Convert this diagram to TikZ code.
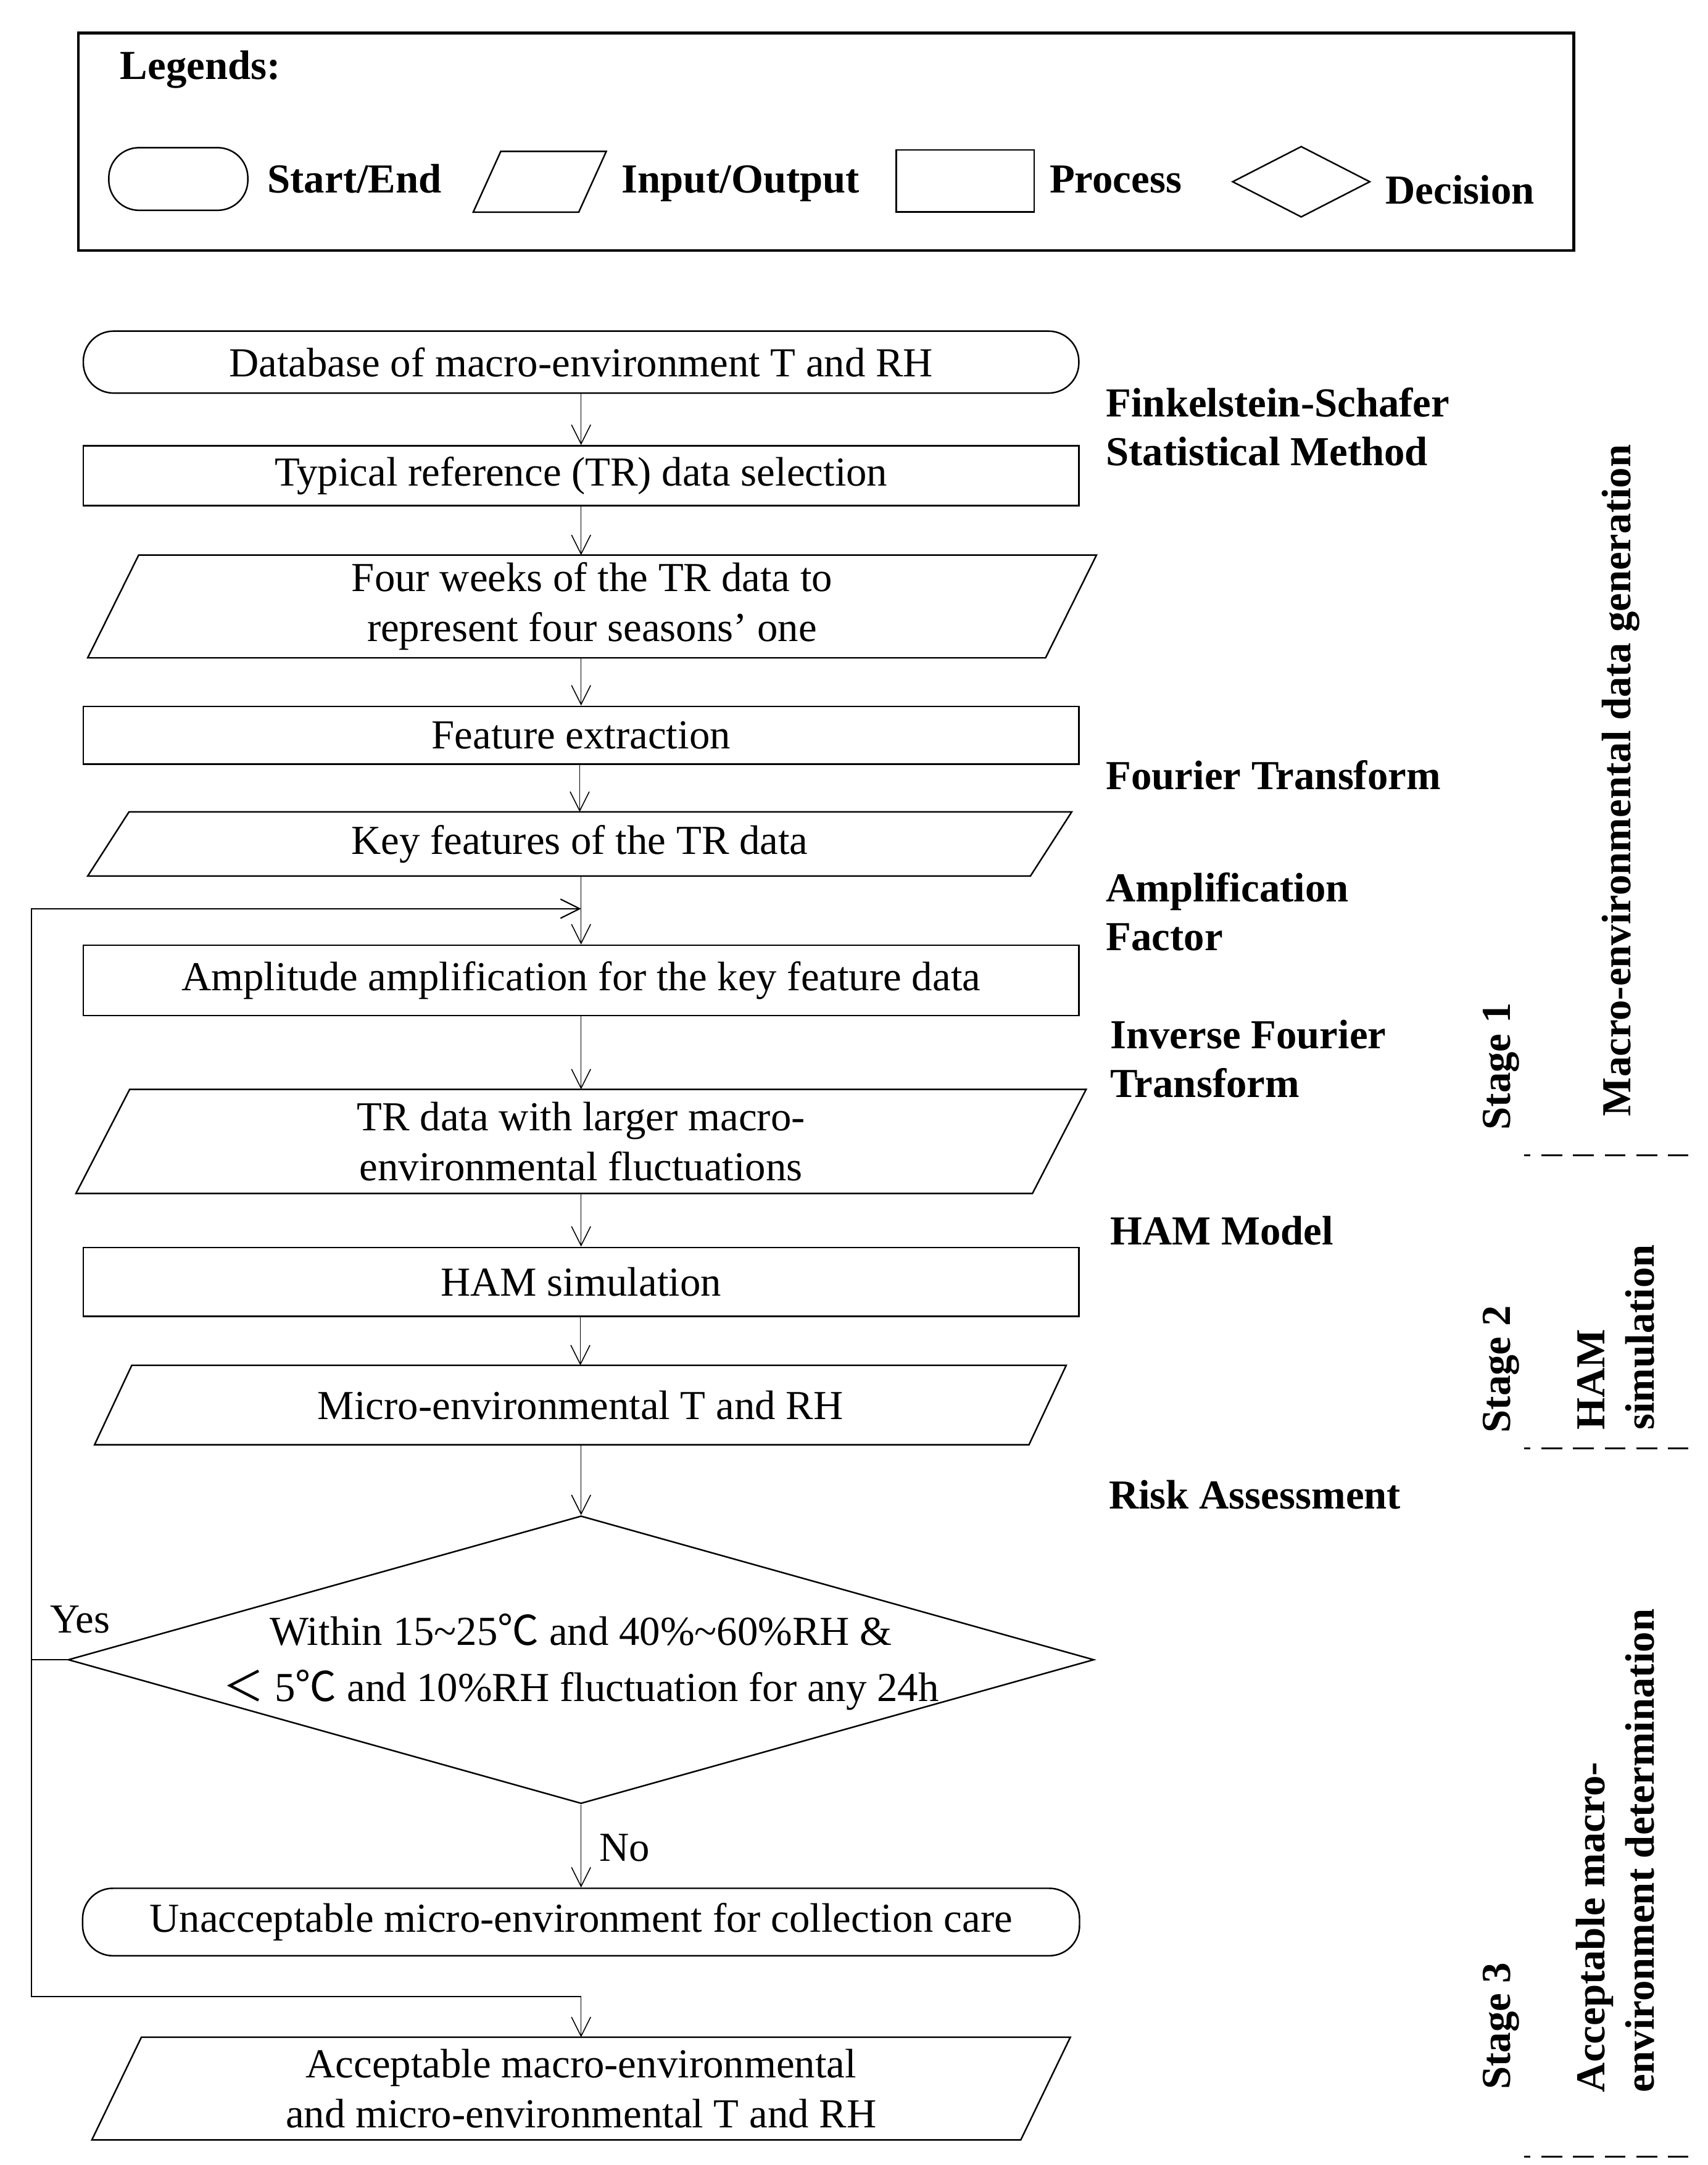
\documentclass[tikz,border=0pt]{standalone}
\usepackage{fontspec}
\setmainfont{Liberation Serif}
\newfontfamily\cjk{Noto Sans CJK SC}
\usetikzlibrary{shapes.geometric,arrows.meta}
\newcommand{\pxu}{0.022315cm}

\begin{document}
\begin{tikzpicture}[x=0.022315cm,y=-0.022315cm,
    every node/.style={font=\fontsize{19pt}{23pt}\selectfont, inner sep=0pt},
    boldtxt/.style={font=\fontsize{19pt}{22.5pt}\selectfont\bfseries},
    flow/.style={draw, line width=0.45pt, -{Straight Barb[length=3.1mm,width=3.1mm]}},
    loopline/.style={draw, line width=0.6pt},
    term/.style={draw, line width=0.7pt, rectangle, rounded corners=0.49cm,
      minimum width=723*\pxu, minimum height=45*\pxu, align=center},
    procbox/.style={draw, line width=0.7pt, rectangle,
      minimum width=723*\pxu, minimum height=43*\pxu, align=center},
    iobox/.style={rectangle, align=center},
    ioline/.style={line width=0.7pt, line join=miter},
    decbox/.style={draw, line width=0.7pt, diamond, aspect=3.56,
      inner xsep=0pt, inner ysep=-10*\pxu, text height=38.6pt, text depth=0pt,
      minimum width=745*\pxu, minimum height=209*\pxu, align=center,
      font=\fontsize{19pt}{26pt}\selectfont},
    stagesep/.style={line width=0.9pt, dash pattern=on 15*\pxu off 8*\pxu,
      dash phase=10.5*\pxu}
  ]
  \path[fill=white] (0,0) rectangle (1240,1572.5);

  % Legend
  \draw[line width=1.2pt] (57,24) rectangle (1143,182);
  \node[boldtxt, anchor=base west] (lgtitle) at (87,57.5) {Legends:};
  \node[term, minimum width=101*\pxu, minimum height=45.5*\pxu] (lgterm) at (129.5,130) {};
  \node[boldtxt, anchor=base west] (lgtermtxt) at (194,140) {Start/End};
  \node[iobox, minimum width=96*\pxu, minimum height=43.5*\pxu] (lgio) at (392,132) {};
  \node[boldtxt, anchor=base west] (lgiotxt) at (451,140) {Input/Output};
  \node[procbox, minimum width=100*\pxu, minimum height=45*\pxu] (lgproc) at (701,131.5) {};
  \node[boldtxt, anchor=base west] (lgproctxt) at (762,140) {Process};
  \node[draw, line width=0.7pt, diamond, minimum width=100*\pxu,
    minimum height=51.5*\pxu] (lgdec) at (945,132) {};
  \node[boldtxt, anchor=base west] (lgdectxt) at (1006,148) {Decision};

  % Flow chart
  \node[term] (db) at (422,263) {Database of macro-environment T and RH};
  \node[procbox, minimum height=43.5*\pxu] (sel) at (422,345.5) {Typical reference (TR) data selection};
  \node[iobox, minimum width=732*\pxu, minimum height=74*\pxu] (four) at (430,440.5)
    {Four weeks of the TR data to\\represent four seasons' one};
  \node[procbox, minimum height=42*\pxu] (feat) at (422,534) {Feature extraction};
  \node[iobox, minimum width=714*\pxu, minimum height=46*\pxu] (key) at (421,613)
    {Key features of the TR data};
  \node[procbox, minimum height=51*\pxu] (amp) at (422,712)
    {Amplitude amplification for the key feature data};
  \node[iobox, minimum width=733*\pxu, minimum height=75*\pxu] (tr) at (422,829)
    {TR data with larger macro-\\environmental fluctuations};
  \node[procbox, minimum height=50*\pxu] (ham) at (422,931) {HAM simulation};
  \node[iobox, minimum width=705*\pxu, minimum height=57*\pxu] (micro) at (421.5,1020.5)
    {Micro-environmental T and RH};
  \node[decbox] (dec) at (422,1205.5)
    {Within 15\textasciitilde25{\cjk ℃} and 40\%\textasciitilde60\%RH \&\\
     {\cjk ＜} 5{\cjk ℃} and 10\%RH fluctuation for any 24h};
  \node[term, minimum width=724*\pxu, minimum height=49*\pxu] (unacc) at (422,1396)
    {Unacceptable micro-environment for collection care};
  \node[iobox, minimum width=710*\pxu, minimum height=74*\pxu] (acc) at (422,1517)
    {Acceptable macro-environmental\\and micro-environmental T and RH};

  % Input/Output outlines
  \foreach \n/\o in {lgio/20, four/37, key/30, tr/39, micro/27, acc/36}
    \draw[ioline] ([xshift=\o*\pxu]\n.north west) -- (\n.north east)
      -- ([xshift=-\o*\pxu]\n.south east) -- (\n.south west) -- cycle;

  % Arrows
  \foreach \a/\b in {db/sel, feat/key, key/amp, amp/tr, tr/ham, ham/micro, micro/dec, dec/unacc}
    \draw[flow] (\b.center |- \a.south) -- (\b.center |- \b.north);
  \draw[flow] (sel.south) -- (sel.south |- four.north);
  \draw[flow] (feat.center |- four.south) -- (feat.north);
  \node[anchor=base west] (nolbl) at (435,1352) {No};

  % Yes loop
  \coordinate (yesturn) at (23,1205.5);
  \coordinate (jtop) at (422,660);
  \coordinate (jbot) at (422,1450);
  \draw[loopline] (dec.west) -- (yesturn);
  \draw[loopline, -{Straight Barb[length=3.1mm,width=3.1mm]}] (yesturn) |- (jtop);
  \draw[loopline] (yesturn) |- (jbot);
  \draw[flow] (jbot) -- (jbot |- acc.north);
  \node[anchor=base west] (yeslbl) at (36,1186) {Yes};

  % Methods
  \node[boldtxt, anchor=base west, align=left] (fsm) at (803,338)
    {Finkelstein-Schafer\\Statistical Method};
  \node[boldtxt, anchor=base west] (ft) at (803,573.6) {Fourier Transform};
  \node[boldtxt, anchor=base west, align=left] (af) at (803,690.5)
    {Amplification\\Factor};
  \node[boldtxt, anchor=base west, align=left] (ift) at (806,797)
    {Inverse Fourier\\Transform};
  \node[boldtxt, anchor=base west] (hm) at (806,904) {HAM Model};
  \node[boldtxt, anchor=base west] (ra) at (805,1096) {Risk Assessment};

  % Stages
  \node[boldtxt, rotate=90, anchor=base west] (st1) at (1097,821) {Stage 1};
  \node[boldtxt, rotate=90, anchor=base west] (st1txt) at (1184,811)
    {Macro-environmental data generation};
  \draw[stagesep] (1107,839) -- (1226,839);
  \node[boldtxt, rotate=90, anchor=base west] (st2) at (1097,1041) {Stage 2};
  \node[boldtxt, rotate=90, anchor=base west, align=left] (st2txt) at (1201,1039)
    {HAM\\simulation};
  \draw[stagesep] (1107,1052) -- (1226,1052);
  \node[boldtxt, rotate=90, anchor=base west] (st3) at (1097,1518) {Stage 3};
  \node[boldtxt, rotate=90, anchor=base west, align=left] (st3txt) at (1201,1520)
    {Acceptable macro-\\environment determination};
  \draw[stagesep] (1107,1566.5) -- (1226,1566.5);
\end{tikzpicture}
\end{document}
